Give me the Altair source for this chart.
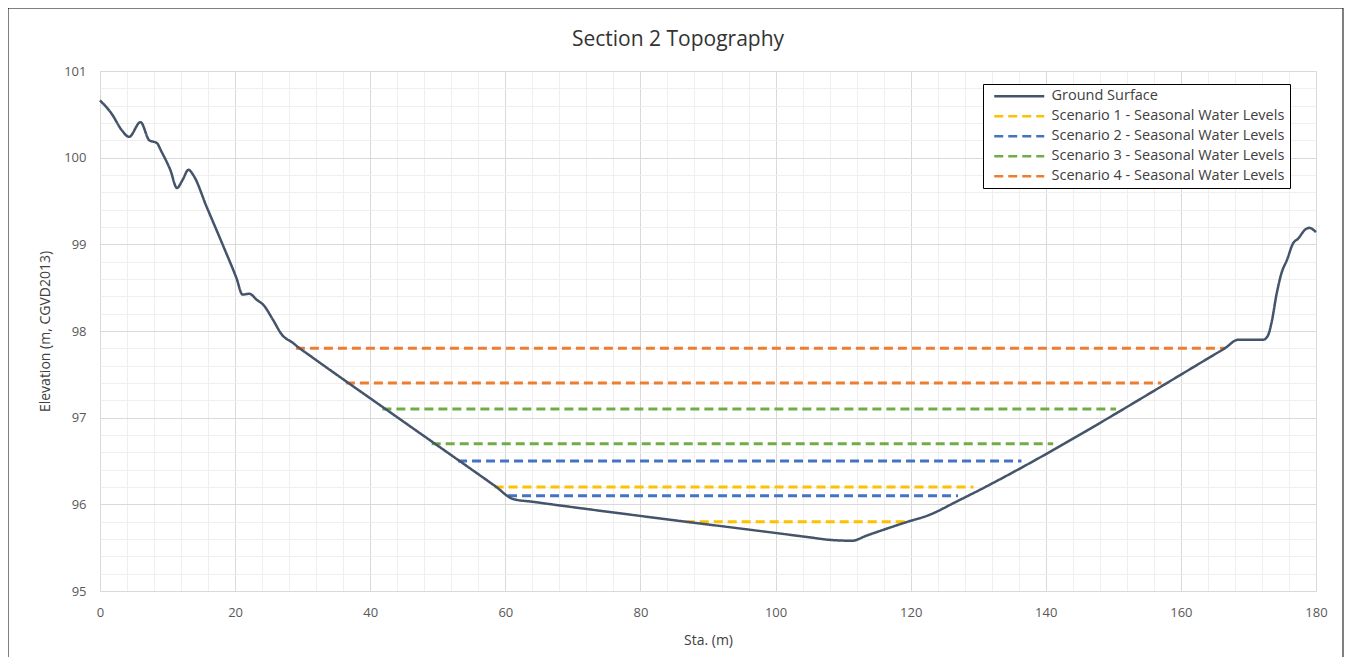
import altair as alt
import pandas as pd

# Ground surface profile (station m, elevation m)
ground_x = [0, 1.7, 3.2, 4.3, 6.0, 7.3, 8.4, 9.1, 10.4, 11.4, 12.2, 13.1, 13.8, 15.8,
            18.3, 20.2, 21.1, 22.1, 23.2, 24.2, 25.6, 26.9, 28.6, 29.4, 31.0, 45.0,
            58.5, 61.2, 64.0, 105.0, 108.0, 111.3, 113.5, 119.6, 122.5, 127.0,
            165.0, 166.5, 168.5, 172.2, 172.9, 173.4, 174.2, 174.9,
            175.7, 176.6, 177.4, 178.4, 179.0, 180.0]
ground_y = [100.66, 100.51, 100.32, 100.24, 100.41, 100.20, 100.17, 100.07, 99.86, 99.65,
            99.74, 99.86, 99.80, 99.43, 98.97, 98.61, 98.42, 98.43, 98.36, 98.30, 98.13,
            97.96, 97.86, 97.81, 97.72, 96.95, 96.21, 96.06, 96.03, 95.62, 95.59, 95.58,
            95.64, 95.80, 95.87, 96.04, 97.73, 97.80, 97.90, 97.90,
            97.95, 98.09, 98.44, 98.67, 98.82, 99.01, 99.07, 99.17, 99.19, 99.14]

# Water level segments
wl_series = ["Scenario 1 - Seasonal Water Levels", "Scenario 1 - Seasonal Water Levels",
             "Scenario 2 - Seasonal Water Levels", "Scenario 2 - Seasonal Water Levels",
             "Scenario 3 - Seasonal Water Levels", "Scenario 3 - Seasonal Water Levels",
             "Scenario 4 - Seasonal Water Levels", "Scenario 4 - Seasonal Water Levels"]
wl_start = [86.7, 58.4, 60.4, 53.0, 49.1, 41.8, 36.4, 29.0]
wl_end = [119.6, 129.3, 127.0, 136.4, 141.1, 150.4, 157.1, 166.5]
wl_level = [95.8, 96.2, 96.1, 96.5, 96.7, 97.1, 97.4, 97.8]

series_names = ["Ground Surface",
                "Scenario 1 - Seasonal Water Levels",
                "Scenario 2 - Seasonal Water Levels",
                "Scenario 3 - Seasonal Water Levels",
                "Scenario 4 - Seasonal Water Levels"]
series_colors = ["#44546A", "#FFC000", "#4472C4", "#70AD47", "#ED7D31"]
series_dash = [[1, 0], [9, 5], [9, 5], [9, 5], [9, 5]]

x_ticks = list(range(0, 181, 4))
y_ticks = [round(95 + 0.2 * i, 1) for i in range(31)]

ground_df = pd.DataFrame({"x": ground_x, "y": ground_y, "series": "Ground Surface", "seg": "g"})
rows = []
for i, (s, a, b, lv) in enumerate(zip(wl_series, wl_start, wl_end, wl_level)):
    rows.append({"x": a, "y": lv, "series": s, "seg": f"w{i}"})
    rows.append({"x": b, "y": lv, "series": s, "seg": f"w{i}"})
water_df = pd.DataFrame(rows)

FONT = "Open Sans"
legend = alt.Legend(
    orient="none", legendX=883, legendY=13, title=None,
    symbolType="M-5,0H5", symbolSize=100, symbolStrokeWidth=2.5,
    symbolOffset=24, labelOffset=25, labelFontSize=14.5, labelFont=FONT,
    labelColor="#404040", strokeColor="black", fillColor="white",
    padding=5, rowPadding=5, labelLimit=400,
)
color = alt.Color("series:N", scale=alt.Scale(domain=series_names, range=series_colors), legend=legend)
dash = alt.StrokeDash("series:N", scale=alt.Scale(domain=series_names, range=series_dash), legend=legend)

x_enc = alt.X("x:Q", scale=alt.Scale(domain=[0, 180], nice=False, zero=False),
              axis=alt.Axis(values=x_ticks, title="Sta. (m)",
                            labelExpr="datum.value % 20 === 0 ? datum.label : ''",
                            gridColor={"condition": {"test": "datum.value % 20 === 0", "value": "#D9D9D9"},
                                       "value": "#EFEFEF"},
                            ticks=False, domain=False, labelOverlap=False, labelFlush=False,
                            labelPadding=15, titlePadding=14, labelFontSize=13, titleFontSize=14,
                            labelFont=FONT, titleFont=FONT, labelColor="#595959",
                            titleColor="#404040", titleFontWeight="normal"))
y_enc = alt.Y("y:Q", scale=alt.Scale(domain=[95, 101], nice=False, zero=False),
              axis=alt.Axis(values=y_ticks, title="Elevation (m, CGVD2013)",
                            labelExpr="abs(datum.value - round(datum.value)) < 0.01 ? format(datum.value, 'd') : ''",
                            gridColor={"condition": {"test": "abs(datum.value - round(datum.value)) < 0.01",
                                                     "value": "#D9D9D9"}, "value": "#EFEFEF"},
                            ticks=False, domain=False, labelOverlap=False, labelFlush=False,
                            labelPadding=14, titlePadding=11, labelFontSize=13, titleFontSize=14,
                            labelFont=FONT, titleFont=FONT, labelColor="#595959",
                            titleColor="#404040", titleFontWeight="normal"))

water = alt.Chart(water_df).mark_line(strokeWidth=3).encode(
    x=x_enc, y=y_enc, color=color, strokeDash=dash, detail="seg:N")
ground = alt.Chart(ground_df).mark_line(strokeWidth=2.5, interpolate="monotone").encode(
    x=x_enc, y=y_enc, color=color, strokeDash=dash, detail="seg:N")

border = alt.Chart(pd.DataFrame({"a": [0]})).mark_rect(filled=False, stroke="black", strokeWidth=1).encode(
    x=alt.value(-92), x2=alt.value(1243), y=alt.value(-63), y2=alt.value(640))

chart = alt.layer(water, ground, border).properties(
    width=1216, height=520,
    title=alt.TitleParams("Section 2 Topography", fontSize=21, font=FONT, fontWeight="normal",
                          color="#333333", offset=0, dx=-30, dy=42, frame="group"),
    autosize=alt.AutoSizeParams(type="none"),
    padding={"left": 92, "top": 63, "right": 28, "bottom": 66},
).configure_view(stroke="black", strokeWidth=1.5).configure(background="white")

chart.save("out.html", embed_options={"renderer": "svg", "actions": False})
